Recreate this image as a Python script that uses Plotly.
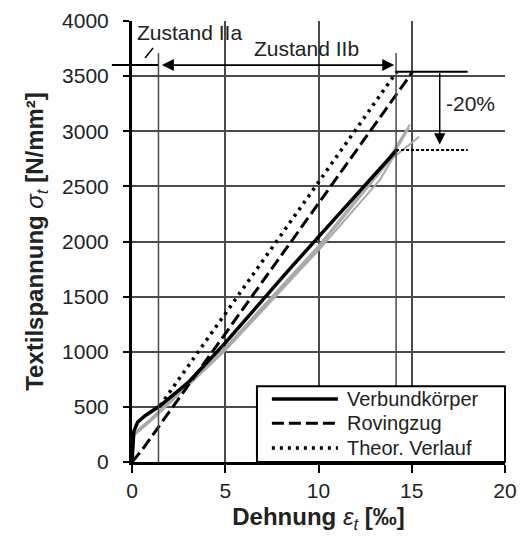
import plotly.graph_objects as go

# Strain (per mille) and textile stress (N/mm²) per curve
eps_vk = [0, 0.03, 0.1, 0.3, 0.7, 1.5, 3.0, 5.0, 8.4, 11.0, 14.2]
sig_vk = [0, 120, 280, 360, 420, 510, 720, 1080, 1740, 2230, 2830]

eps_roving = [0, 0.5, 15.05]
sig_roving = [0, 100, 3540]

eps_theor = [1.5, 14.2]
sig_theor = [510, 3540]

# individual specimens (grey)
eps_s1 = [0, 0.1, 1.0, 5.0, 10.0, 13.7, 14.9]
sig_s1 = [0, 260, 390, 1040, 1960, 2740, 3060]
eps_s2 = [0, 0.1, 1.0, 5.0, 10.0, 13.3, 14.0, 15.4]
sig_s2 = [0, 240, 370, 1010, 1920, 2560, 2760, 2950]
eps_s3 = [0, 0.1, 1.0, 5.0, 10.0, 13.8, 14.85]
sig_s3 = [0, 250, 380, 1020, 1940, 2730, 3030]

x_ticks = [0, 5, 10, 15, 20]
y_ticks = [0, 500, 1000, 1500, 2000, 2500, 3000, 3500, 4000]

legend_names = ["Verbundkörper", "Rovingzug", "Theor. Verlauf"]
legend_dash = ["solid", "12px,5px", "3px,5px"]

# state boundaries and stress levels used by the annotations
eps_IIa_end = 1.42
eps_IIb_end = 14.16
sig_state_arrow = 3600
sig_peak = 3540
sig_reduced = 2830

FONT = "Arial, Liberation Sans, sans-serif"
GRID = "#4a4a4a"

fig = go.Figure()
for ex, sy in [(eps_s1, sig_s1), (eps_s3, sig_s3), (eps_s2, sig_s2)]:
    fig.add_trace(go.Scatter(x=ex, y=sy, mode="lines",
                             line=dict(color="#aaaaaa", width=2), hoverinfo="skip"))
fig.add_trace(go.Scatter(x=eps_theor, y=sig_theor, mode="lines", name=legend_names[2],
                         line=dict(color="black", width=3.5, dash=legend_dash[2])))
fig.add_trace(go.Scatter(x=eps_roving, y=sig_roving, mode="lines", name=legend_names[1],
                         line=dict(color="black", width=3, dash=legend_dash[1])))
fig.add_trace(go.Scatter(x=eps_vk, y=sig_vk, mode="lines", name=legend_names[0],
                         line=dict(color="black", width=3.5)))

shapes = []
# vertical boundaries of the cracking states
for e in (eps_IIa_end, eps_IIb_end):
    shapes.append(dict(type="line", xref="x", yref="y", x0=e, x1=e, y0=0, y1=3710,
                       line=dict(color=GRID, width=1.5)))
# horizontal reference line left of the IIb arrow
shapes.append(dict(type="line", xref="paper", yref="y", x0=-0.054, x1=0.07,
                   y0=sig_state_arrow, y1=sig_state_arrow, line=dict(color="black", width=2)))
# leader for "Zustand IIa"
shapes.append(dict(type="line", xref="x", yref="y", x0=0.7, x1=1.13, y0=3664, y1=3755,
                   line=dict(color="black", width=1.5)))
# peak and reduced stress levels
shapes.append(dict(type="line", xref="x", yref="y", x0=eps_IIb_end, x1=18, y0=sig_peak, y1=sig_peak,
                   line=dict(color="black", width=2)))
shapes.append(dict(type="line", xref="x", yref="y", x0=eps_IIb_end, x1=18, y0=sig_reduced, y1=sig_reduced,
                   line=dict(color="black", width=2, dash="3px,2px")))
# legend box
shapes.append(dict(type="rect", xref="paper", yref="paper", x0=0.335, x1=1.0, y0=0.0, y1=0.172,
                   line=dict(color="black", width=2), fillcolor="white", layer="above"))
leg_y = [0.143, 0.088, 0.032]
leg_w = [3.5, 3, 3.5]
for yy, d, w in zip(leg_y, legend_dash, leg_w):
    shapes.append(dict(type="line", xref="paper", yref="paper", x0=0.375, x1=0.552, y0=yy, y1=yy,
                       line=dict(color="black", width=w, dash=d), layer="above"))

annotations = []
for name, yy in zip(legend_names, leg_y):
    annotations.append(dict(xref="paper", yref="paper", x=0.571, y=yy, text=name, showarrow=False,
                            xanchor="left", yanchor="middle", font=dict(size=20, color="#222")))
annotations += [
    dict(xref="x", yref="y", x=0.16, y=3900, text="Zustand IIa", showarrow=False,
         xanchor="left", yanchor="middle", font=dict(size=21, color="#222")),
    dict(xref="x", yref="y", x=6.43, y=3750, text="Zustand IIb", showarrow=False,
         xanchor="left", yanchor="middle", font=dict(size=21, color="#222")),
    dict(xref="x", yref="y", x=16.75, y=3256, text="-20%", showarrow=False,
         xanchor="left", yanchor="middle", font=dict(size=21, color="#222")),
    # double arrow spanning state IIb
    dict(xref="x", yref="y", axref="x", ayref="y", x=eps_IIb_end - 0.1, y=sig_state_arrow,
         ax=eps_IIa_end + 0.1, ay=sig_state_arrow, text="", showarrow=True, arrowside="end+start",
         arrowhead=2, arrowsize=1.5, arrowwidth=1.6, arrowcolor="black", standoff=0, startstandoff=0,
         startarrowhead=2, startarrowsize=1.5),
    # reduction arrow
    dict(xref="x", yref="y", axref="x", ayref="y", x=16.5, y=sig_reduced + 50,
         ax=16.5, ay=sig_peak, text="", showarrow=True,
         arrowhead=2, arrowsize=1.5, arrowwidth=1.5, arrowcolor="black", standoff=0),
]

axis_common = dict(showgrid=True, gridcolor=GRID, gridwidth=1.5, zeroline=False,
                   showline=True, linecolor="black", ticks="outside", tickcolor="black",
                   automargin=False,
                   tickfont=dict(size=21, color="#222", family=FONT))

fig.update_layout(
    width=521, height=537,
    margin=dict(l=132, r=16, t=21, b=75),
    paper_bgcolor="white", plot_bgcolor="white",
    showlegend=False,
    font=dict(family=FONT, color="#222"),
    shapes=shapes, annotations=annotations,
    xaxis=dict(range=[0, 20], tickvals=x_ticks, ticklen=8, tickwidth=2, linewidth=2.5,
               title=dict(text="<b>Dehnung</b> <i>ε</i><sub><i>t</i></sub> <b>[‰]</b>",
                          font=dict(size=24, color="#222"), standoff=8),
               **axis_common),
    yaxis=dict(range=[0, 4000], tickvals=y_ticks, ticklen=6, tickwidth=2, linewidth=3,
               ticklabelstandoff=10,
               title=dict(text="<b>Textilspannung</b> <i>σ</i><sub><i>t</i></sub> <b>[N/mm²]</b>",
                          font=dict(size=24, color="#222"), standoff=12),
               **axis_common),
)

fig.write_html("out.html")
